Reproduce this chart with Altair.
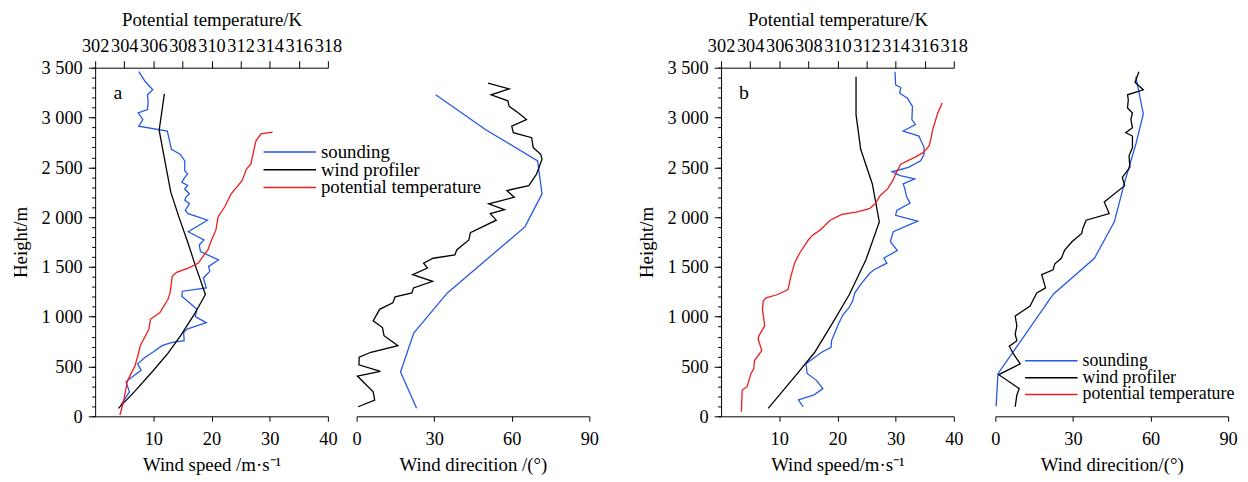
import altair as alt
import pandas as pd

FONT = "Liberation Serif"
BLUE = "#2459e6"
BLACK = "#000000"
RED = "#ee1c1c"
SERIES = ["sounding", "wind profiler", "potential temperature"]

# ---------------- panel a ----------------
a_snd_h = [113, 245, 345, 361, 461, 527, 593, 643, 709, 742, 759, 842, 875, 941, 1001, 1074, 1206, 1256, 1289, 1389,
           1455, 1505, 1570, 1654, 1720, 1770, 1853, 1969, 2035, 2068, 2135, 2168, 2201, 2234, 2283, 2317, 2350, 2399,
           2432, 2466, 2565, 2632, 2681, 2764, 2864, 2913, 2980, 3046, 3079, 3162, 3228, 3278, 3361, 3460]
a_snd_ws = [4.4, 5.9, 5.3, 5.6, 7.9, 7.3, 8.6, 9.9, 11.5, 13.2, 15.3, 15.2, 15.8, 19.1, 17.2, 17.5, 14.9, 15.0, 19.1, 18.6,
            19.7, 19.5, 21.2, 18.1, 17.9, 18.7, 16.0, 19.3, 16.0, 15.5, 16.2, 15.4, 15.6, 16.2, 15.4, 15.9, 14.9, 15.4,
            15.9, 15.4, 15.4, 14.6, 13.1, 12.8, 12.4, 7.5, 8.2, 7.4, 9.0, 9.1, 9.0, 9.9, 8.6, 7.5]
a_prof_h = [80, 250, 460, 640, 815, 1020, 1223, 1500, 1750, 2000, 2250, 2560, 2873, 3238]
a_prof_ws = [4.0, 6.8, 10.0, 12.6, 14.75, 17.0, 18.95, 17.3, 15.9, 14.4, 13.0, 12.0, 11.0, 11.9]
a_theta_h = [13, 146, 345, 411, 510, 643, 709, 875, 974, 1041, 1173, 1239, 1405, 1445, 1488, 1538, 1604, 1670, 1770,
             1869, 2002, 2101, 2233, 2366, 2482, 2532, 2665, 2764, 2835, 2853]
a_theta = [303.7, 303.95, 304.2, 304.4, 304.75, 305.0, 305.1, 305.7, 305.8, 306.45, 307.0, 307.15, 307.3, 307.6, 308.4,
           309.1, 309.4, 309.75, 310.0, 310.3, 310.45, 310.9, 311.35, 312.1, 312.4, 312.7, 312.9, 313.05, 313.4, 314.2]
a_snd_dir_h = [80, 444, 835, 1239, 1902, 2234, 2565, 2880, 3228]
a_snd_dir = [23.2, 17.0, 22.1, 35.1, 65.1, 71.7, 70.0, 49.8, 30.6]
a_prof_dir_h = [96, 162, 245, 404, 451, 517, 593, 643, 709, 809, 891, 958, 1074, 1140, 1200, 1239, 1289, 1355, 1422,
                1488, 1538, 1587, 1621, 1670, 1770, 1843, 1969, 2035, 2075, 2134, 2200, 2267, 2316, 2432, 2582, 2631,
                2698, 2797, 2847, 2913, 2979, 3046, 3112, 3168, 3228, 3287, 3344]
a_prof_dir = [0.6, 7.0, 6.4, 0.3, 9.2, 0.9, 1.0, 5.5, 16.0, 10.6, 10.0, 6.4, 8.9, 14.0, 14.9, 21.4, 22.0, 29.4, 21.7,
              27.4, 25.9, 29.6, 38.0, 38.7, 43.4, 44.0, 54.0, 51.7, 57.2, 51.1, 61.0, 58.1, 66.6, 69.6, 71.7, 71.2,
              68.3, 67.7, 60.6, 60.0, 65.7, 62.6, 59.0, 58.5, 52.0, 59.0, 50.8]

# ---------------- panel b ----------------
b_snd_h = [96, 165, 215, 278, 361, 430, 527, 643, 693, 760, 875, 941, 1024, 1090, 1157, 1239, 1339, 1438, 1471, 1538,
           1590, 1664, 1753, 1853, 1959, 2018, 2068, 2141, 2201, 2283, 2333, 2383, 2416, 2455, 2499, 2565, 2631, 2698,
           2814, 2864, 2930, 2979, 3112, 3195, 3244, 3301, 3327, 3460]
b_snd_ws = [14.1, 13.3, 16.0, 17.5, 16.4, 14.8, 14.6, 17.3, 18.9, 19.0, 19.8, 20.3, 21.0, 22.0, 22.6, 23.0, 24.2, 25.6,
            26.3, 28.5, 28.0, 30.3, 29.1, 29.6, 33.8, 30.0, 30.2, 32.5, 31.9, 31.6, 31.3, 33.3, 30.8, 29.4, 32.2, 34.3,
            34.9, 34.9, 34.0, 31.3, 33.4, 32.8, 32.9, 32.0, 30.7, 30.9, 30.0, 29.9]
b_prof_h = [80, 428, 643, 941, 1223, 1571, 1952, 2333, 2681, 3029, 3410]
b_prof_ws = [8.1, 13.1, 16.1, 19.2, 22.05, 24.9, 27.2, 26.0, 24.0, 23.2, 23.2]
b_theta_h = [46, 262, 300, 428, 477, 560, 660, 776, 808, 908, 1074, 1157, 1190, 1223, 1273, 1405, 1538, 1637, 1770, 1819,
             1869, 1969, 2028, 2051, 2084, 2134, 2217, 2283, 2366, 2433, 2532, 2600, 2647, 2714, 2800, 2880, 3046, 3145]
b_theta = [303.4, 303.45, 303.8, 304.05, 304.25, 304.3, 304.8, 304.55, 304.6, 305.0, 304.85, 304.9, 305.1, 305.9, 306.6,
           306.8, 307.05, 307.4, 308.0, 308.3, 308.8, 309.5, 310.3, 311.3, 312.2, 312.6, 312.95, 313.45, 313.8, 314.0,
           314.35, 315.3, 315.9, 316.3, 316.45, 316.55, 316.9, 317.2]
b_snd_dir_h = [100, 428, 1223, 1587, 1952, 2333, 2731, 3036, 3410]
b_snd_dir = [0.3, 1.0, 22.3, 38.3, 46.0, 49.8, 54.3, 57.2, 54.3]
b_prof_dir_h = [96, 212, 278, 418, 527, 626, 703, 759, 825, 908, 1007, 1107, 1239, 1289, 1422, 1471, 1531, 1587, 1670,
                1753, 1836, 1886, 1969, 2035, 2151, 2316, 2399, 2499, 2615, 2698, 2814, 2847, 2897, 2979, 3046, 3095,
                3178, 3228, 3278, 3354, 3460]
b_prof_dir = [7.66, 8.3, 9.2, 1.3, 9.6, 7.0, 5.36, 8.3, 7.66, 8.3, 7.66, 13.4, 16.0, 19.4, 17.9, 22.3, 23.0, 25.5, 26.8,
              29.6, 33.4, 33.8, 35.1, 44.0, 42.1, 50.0, 49.1, 52.0, 51.7, 53.0, 53.0, 50.4, 53.0, 52.4, 53.0, 51.1,
              51.4, 51.1, 57.2, 54.0, 55.5]

PW, PH = 235, 352


def frame(h, v, series):
    return pd.DataFrame({"h": h, "v": v, "series": series, "i": list(range(len(h)))})


def color_enc(legend):
    return alt.Color("series:N", scale=alt.Scale(domain=SERIES, range=[BLUE, BLACK, RED]), legend=legend)


def make_legend(lx, ly, fs, rp):
    return alt.Legend(orient="none", legendX=lx, legendY=ly, title=None, symbolType="stroke",
                      symbolSize=2809, symbolStrokeWidth=1.5, clipHeight=16, rowPadding=rp,
                      labelFontSize=fs, labelFont=FONT, labelColor="black", labelOffset=4,
                      labelLimit=0, padding=0, offset=0)


yscale = alt.Scale(domain=[0, 3500], nice=False, zero=False)
LABEL_EXPR = "replace(format(datum.value, ','), ',', ' ')"


def speed_panel(snd_h, snd_v, prof_h, prof_v, th_h, th_v, letter, xtitle, legend):
    df = pd.concat([frame(snd_h, snd_v, "sounding"), frame(prof_h, prof_v, "wind profiler")])
    wind = alt.Chart(df).mark_line(strokeWidth=1.3).encode(
        x=alt.X("v:Q", scale=alt.Scale(domain=[0, 40], nice=False),
                axis=alt.Axis(values=[10, 20, 30, 40], title=xtitle, orient="bottom", tickSize=5,
                              labelPadding=8, titlePadding=8)),
        y=alt.Y("h:Q", scale=yscale,
                axis=alt.Axis(values=list(range(0, 3501, 500)), title="Height/m", orient="left",
                              labelExpr=LABEL_EXPR, tickSize=7, labelPadding=6, titlePadding=11)),
        color=color_enc(legend),
        order="i:Q",
    )
    th = alt.Chart(frame(th_h, th_v, "potential temperature")).mark_line(strokeWidth=1.3).encode(
        x=alt.X("v:Q", scale=alt.Scale(domain=[302, 318], nice=False),
                axis=alt.Axis(orient="top", values=list(range(302, 319, 2)), title="Potential temperature/K",
                              labelOverlap=False, tickSize=7, labelPadding=5, titlePadding=8)),
        y=alt.Y("h:Q", scale=yscale,
                axis=alt.Axis(orient="left", values=list(range(0, 3501, 100)), labels=False, domain=False,
                              tickSize=3.5, title=None)),
        color=color_enc(legend),
        order="i:Q",
    )
    lab = alt.Chart(pd.DataFrame({"t": [letter]})).mark_text(
        font=FONT, fontSize=20, align="center", baseline="middle", color="black"
    ).encode(text="t:N", x=alt.value(23), y=alt.value(26))
    return alt.layer(wind, th, lab).resolve_scale(x="independent").resolve_axis(
        x="independent", y="independent").properties(width=PW, height=PH)


def dir_panel(snd_h, snd_v, prof_h, prof_v, xtitle, legend):
    df = pd.concat([frame(snd_h, snd_v, "sounding"), frame(prof_h, prof_v, "wind profiler")])
    return alt.Chart(df).mark_line(strokeWidth=1.3).encode(
        x=alt.X("v:Q", scale=alt.Scale(domain=[0, 90], nice=False),
                axis=alt.Axis(values=[0, 30, 60, 90], title=xtitle, orient="bottom", tickSize=5,
                              labelPadding=8, titlePadding=8)),
        y=alt.Y("h:Q", scale=yscale, axis=None),
        color=color_enc(legend),
        order="i:Q",
    ).properties(width=PW, height=PH)


speed_a = speed_panel(a_snd_h, a_snd_ws, a_prof_h, a_prof_ws, a_theta_h, a_theta, "a",
                      "Wind speed /m·s⁻¹", make_legend(169, 77, 19, -4.8))
dir_a = dir_panel(a_snd_dir_h, a_snd_dir, a_prof_dir_h, a_prof_dir, "Wind direcition /(°)", None)
speed_b = speed_panel(b_snd_h, b_snd_ws, b_prof_h, b_prof_ws, b_theta_h, b_theta, "b",
                      "Wind speed/m·s⁻¹", None)
dir_b = dir_panel(b_snd_dir_h, b_snd_dir, b_prof_dir_h, b_prof_dir, "Wind direcition/(°)",
                  make_legend(29, 288, 18, -3.5))

group_a = alt.hconcat(speed_a, dir_a, spacing=29, bounds="flush").resolve_scale(
    color="independent").resolve_legend(color="independent")
group_b = alt.hconcat(speed_b, dir_b, spacing=42, bounds="flush").resolve_scale(
    color="independent").resolve_legend(color="independent")

chart = alt.hconcat(group_a, group_b, spacing=38).resolve_scale(
    color="independent").resolve_legend(color="independent").properties(
    padding={"left": 3, "top": 0, "right": 2, "bottom": 0}
).configure(font=FONT, background="white").configure_view(stroke=None).configure_axis(
    labelFont=FONT, titleFont=FONT, labelFontSize=18.5, titleFontSize=19, labelColor="black",
    titleColor="black", domainColor="black", tickColor="black", grid=False, titleFontWeight="normal",
    domainWidth=1, tickWidth=1, labelFlush=False
)

chart.save("out.html", embed_options={"renderer": "svg", "actions": False})
